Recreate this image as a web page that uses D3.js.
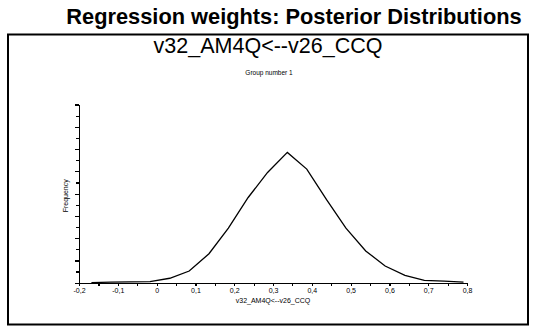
<!DOCTYPE html>
<html>
<head>
<meta charset="utf-8">
<script src="https://cdn.jsdelivr.net/npm/d3@7"></script>
<style>
  body { margin: 0; background: #fff; }
  text { font-family: "Liberation Sans", Arial, sans-serif; fill: #000; }
</style>
</head>
<body>
<div id="chart"></div>
<script>
// posterior distribution (frequency polygon)
var xVals = [-0.168, -0.118, -0.067, -0.017, 0.034, 0.084, 0.135, 0.185, 0.236, 0.286,
             0.337, 0.387, 0.438, 0.488, 0.539, 0.589, 0.640, 0.690, 0.741, 0.791];
var freq  = [0, 0.05, 0.08, 0.1, 0.4, 1.05, 2.6, 4.9, 7.65, 9.9,
             11.7, 10.2, 7.45, 4.9, 2.85, 1.5, 0.65, 0.2, 0.15, 0.05];
var xTicks = [-0.2, -0.15, -0.1, -0.05, 0, 0.05, 0.1, 0.15, 0.2, 0.25, 0.3, 0.35,
              0.4, 0.45, 0.5, 0.55, 0.6, 0.65, 0.7, 0.75, 0.8];
var yTicks = d3.range(0, 17);

var title = "Regression weights: Posterior Distributions";
var subtitle = "v32_AM4Q<--v26_CCQ";
var group = "Group number 1";

var W = 533, H = 327;
var svg = d3.select("#chart").append("svg")
    .attr("width", W)
    .attr("height", H);

// outer frame
svg.append("rect")
    .attr("x", 8).attr("y", 34.5)
    .attr("width", 520).attr("height", 290)
    .attr("fill", "none")
    .attr("stroke", "#000")
    .attr("stroke-width", 2);

svg.append("text")
    .attr("x", 294).attr("y", 24)
    .attr("text-anchor", "middle")
    .style("font-size", "21.8px")
    .style("font-weight", "bold")
    .text(title);

svg.append("text")
    .attr("x", 268).attr("y", 53)
    .attr("text-anchor", "middle")
    .style("font-size", "21.5px")
    .text(subtitle);

svg.append("text")
    .attr("x", 269).attr("y", 75)
    .attr("text-anchor", "middle")
    .style("font-size", "6.5px")
    .text(group);

var x = d3.scaleLinear().domain([-0.2, 0.8]).range([79, 467]);
var y = d3.scaleLinear().domain([0, 16]).range([282.7, 104.5]);

var loc = d3.formatLocale({ decimal: ",", thousands: ".", grouping: [3], currency: ["", ""], minus: "-" });
var fmt = loc.format(".1f");

var xAxis = svg.append("g")
    .attr("transform", "translate(0," + y(0) + ")")
    .call(d3.axisBottom(x)
        .tickValues(xTicks)
        .tickSize(3)
        .tickSizeOuter(0)
        .tickFormat(function (d) {
            var r = Math.round(d * 10);
            if (Math.abs(d * 10 - r) > 1e-6) return "";
            if (r == 0) return "0";
            return fmt(d);
        }));
xAxis.selectAll("text")
    .attr("y", 5)
    .style("font-size", "7px");

var yAxis = svg.append("g")
    .attr("transform", "translate(" + x(-0.2) + ",0)")
    .call(d3.axisLeft(y)
        .tickValues(yTicks)
        .tickSizeOuter(0)
        .tickFormat(""));
yAxis.selectAll(".tick line")
    .attr("x2", function (d) { return d % 2 == 0 ? -4.5 : -3; });

svg.selectAll(".domain, .tick line")
    .attr("stroke", "#000")
    .attr("stroke-width", 1.2)
    .attr("shape-rendering", "crispEdges");

svg.append("text")
    .attr("x", 273).attr("y", 303)
    .attr("text-anchor", "middle")
    .style("font-size", "7px")
    .text(subtitle);

svg.append("text")
    .attr("transform", "translate(68," + y(7.8) + ") rotate(-90)")
    .attr("text-anchor", "middle")
    .style("font-size", "7px")
    .text("Frequency");

var line = d3.line()
    .x(function (d, i) { return x(xVals[i]); })
    .y(function (d) { return y(d); });

svg.append("path")
    .datum(freq)
    .attr("d", line)
    .attr("fill", "none")
    .attr("stroke", "#000")
    .attr("stroke-width", 1.3);
</script>
</body>
</html>
